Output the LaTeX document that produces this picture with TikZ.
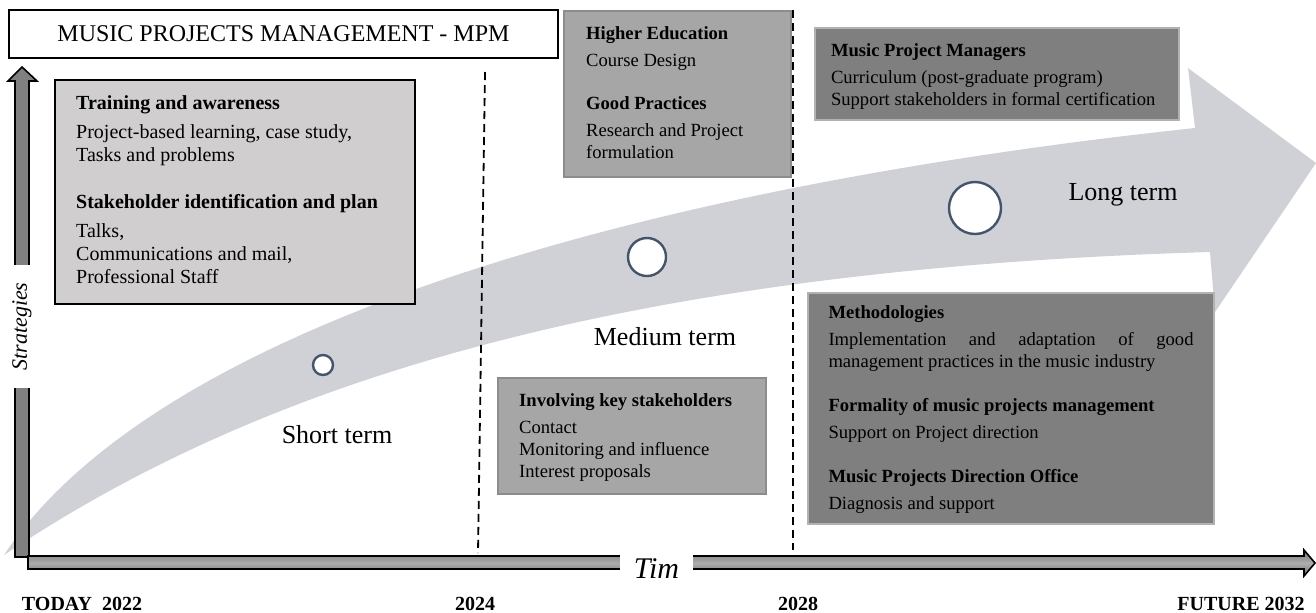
\documentclass[tikz,border=0pt]{standalone}
\usepackage{fontspec}
\setmainfont{Liberation Serif}

\definecolor{bandgray}{RGB}{208,209,214}
\definecolor{lightfill}{RGB}{208,206,206}
\definecolor{midfill}{RGB}{166,166,166}
\definecolor{darkfill}{RGB}{127,127,127}
\definecolor{ringblue}{RGB}{68,84,106}

\newcommand{\boxfont}{\fontsize{9.3}{11}\selectfont}
\newcommand{\bigboxfont}{\fontsize{10}{11.5}\selectfont}

\begin{document}
\begin{tikzpicture}[x=0.5pt,y=-0.5pt,
	every node/.style={inner sep=0pt},
	titlebox/.style={draw,line width=0.6pt,minimum width=274.5pt,minimum height=24pt,font=\fontsize{12}{14}\selectfont},
	lightbox/.style={anchor=north west,draw,line width=1.2pt,fill=lightfill,inner xsep=10.5pt,align=flush left,font=\bigboxfont},
	midbox/.style={anchor=north west,draw=black!45,line width=1.2pt,fill=midfill,inner xsep=11pt,align=flush left,font=\boxfont},
	darkbox/.style={anchor=north west,draw=black!30,line width=1pt,fill=darkfill,inner xsep=10.5pt,align=flush left,font=\boxfont},
	ring/.style={circle,draw=ringblue,line width=1.2pt,fill=white},
	termlabel/.style={anchor=base,font=\fontsize{13}{15}\selectfont},
	yearlabel/.style={anchor=base,font=\fontsize{10}{12}\selectfont\bfseries},
	timeline/.style={dash pattern=on 4pt off 2.5pt,line width=0.9pt},
	axisarrow/.style={draw,line width=0.8pt}]

	\useasboundingbox (0,0) rectangle (1316,612);

	\fill[bandgray] (4,555) .. controls (160,320) and (660,185) .. (1195,128) -- (1188,68) -- (1316,163)
		-- (1215,312) -- (1210,252) .. controls (600,270) and (250,390) .. (4,555) -- cycle;

	\coordinate (mid top) at (485,72);
	\coordinate (mid bottom) at (478,553);
	\coordinate (long top) at (793,10);
	\coordinate (long bottom) at (793,550);
	\draw[timeline] (mid top) -- (mid bottom);
	\draw[timeline] (long top) -- (long bottom);

	\node[titlebox] (title) at (283.5,34) {MUSIC PROJECTS MANAGEMENT - MPM};

	\node[lightbox,text width=159pt,text height=14.5pt,text depth=97.5pt] (training) at (54,79)
		{\textbf{Training and awareness}\\[3pt]
		Project-based learning, case study,\\
		Tasks and problems\\[12pt]
		\textbf{Stakeholder identification and plan}\\[3pt]
		Talks,\\
		Communications and mail,\\
		Professional Staff};
	\node[midbox,text width=91.5pt,text height=14pt,text depth=69pt] (higher) at (563,10)
		{\textbf{Higher Education}\\[2.5pt]
		Course Design\\[10.5pt]
		\textbf{Good Practices}\\[2.5pt]
		Research and Project\\
		formulation};
	\node[midbox,inner xsep=10.5pt,text width=113pt,text height=14pt,text depth=44pt] (involving) at (497,377)
		{\textbf{Involving key stakeholders}\\[2.5pt]
		Contact\\
		Monitoring and influence\\
		Interest proposals};
	\node[darkbox,inner xsep=8pt,text width=166pt,text height=14pt,text depth=32pt] (managers) at (814,27)
		{\textbf{Music Project Managers}\\[2.5pt]
		Curriculum (post-graduate program)\\
		Support stakeholders in formal certification};
	\node[darkbox,inner xsep=10.25pt,text width=182.5pt,text height=12.5pt,text depth=103pt] (methods) at (807,292)
		{\textbf{Methodologies}\\[2.5pt]
		\makebox[\linewidth][l]{Implementation\hfill and\hfill adaptation\hfill of\hfill good}\\
		management practices in the music industry\\[11pt]
		\textbf{Formality of music projects management}\\[2.5pt]
		Support on Project direction\\[11pt]
		\textbf{Music Projects Direction Office}\\[2.5pt]
		Diagnosis and support};

	\node[ring,minimum size=10pt] (short dot) at (323,365) {};
	\node[ring,minimum size=19pt] (medium dot) at (647,257) {};
	\node[ring,minimum size=26pt] (long dot) at (975,208) {};

	\node[termlabel] (short) at (337,443) {Short term};
	\node[termlabel] (medium) at (665,345) {Medium term};
	\node[termlabel] (long) at (1123,200) {Long term};

	\filldraw[axisarrow,fill=black!50] (15,557) -- (15,81) -- (8,81) -- (22,67) -- (37,81) -- (29,81) -- (29,557) -- cycle;
	\draw[axisarrow,top color=black!55,bottom color=black!55,middle color=black!32]
		(28,556) -- (1304,556) -- (1304,550) -- (1315,563) -- (1304,576) -- (1304,569) -- (28,569) -- cycle;

	\node[font=\fontsize{11}{13}\selectfont\itshape,fill=white,rotate=90,inner xsep=8.75pt,inner ysep=2pt] (strategies) at (22,326.5) {Strategies};
	\node[font=\fontsize{15}{18}\selectfont\itshape,fill=white,inner xsep=7pt,inner ysep=3pt,anchor=base] (time) at (656.5,578) {Tim};

	\node[yearlabel] (today) at (82,610) {TODAY\ \ 2022};
	\node[yearlabel] (y2024) at (475,610) {2024};
	\node[yearlabel] (y2028) at (798,610) {2028};
	\node[yearlabel] (future) at (1241,610) {FUTURE 2032};

\end{tikzpicture}
\end{document}
